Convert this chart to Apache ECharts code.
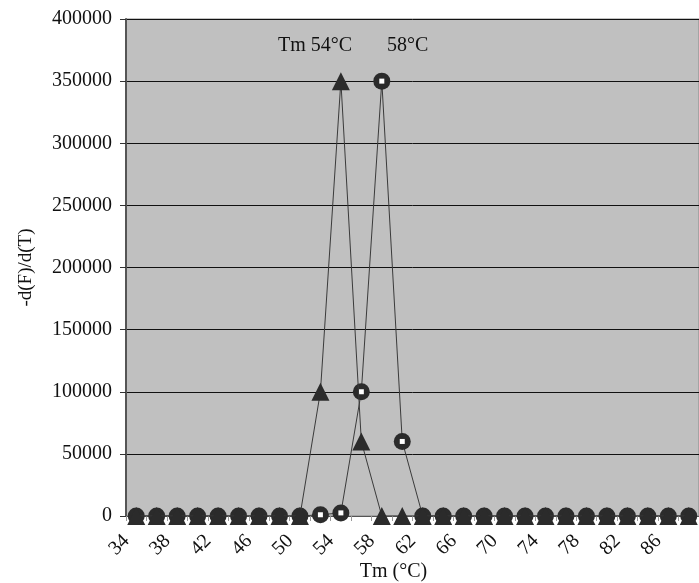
<!DOCTYPE html>
<html><head><meta charset="utf-8">
<script src="https://cdn.jsdelivr.net/npm/echarts@6/dist/echarts.min.js"></script>
<style>html,body{margin:0;padding:0;background:#fff}#c{width:699px;height:583px}</style>
</head><body><div id="c"></div>
<script>
// Temperature categories (°C)
const categories = ['34','36','38','40','42','44','46','48','50','52','54','56','58','60','62','64','66','68','70','72','74','76','78','80','82','84','86','88'];
// -d(F)/d(T), Tm 54°C product (triangles)
const tm54 = [0,0,0,0,0,0,0,0,0,100000,350000,60000,0,0,0,0,0,0,0,0,0,0,0,0,0,0,0,0];
// -d(F)/d(T), Tm 58°C product (circles)
const tm58 = [0,0,0,0,0,0,0,0,0,1000,2500,100000,350000,60000,0,0,0,0,0,0,0,0,0,0,0,0,0,0];
const yMin = 0, yMax = 400000, yStep = 50000;
const peakLabels = ['Tm 54°C', '58°C'];

const FONT = 'Liberation Serif';
const chart = echarts.init(document.getElementById('c'));
chart.setOption({
  animation: false,
  backgroundColor: '#fff',
  grid: { left: 126, top: 19, right: 0, bottom: 67, containLabel: false, outerBoundsMode: 'none',
    show: true, backgroundColor: '#c0c0c0', borderColor: '#888', borderWidth: 1 },
  xAxis: {
    type: 'category', data: categories, boundaryGap: true,
    name: 'Tm (°C)', nameLocation: 'middle', nameGap: 46, nameMoveOverlap: false,
    nameTextStyle: { fontFamily: FONT, fontSize: 20, color: '#111', padding: [0, 38, 0, 0] },
    axisLine: { lineStyle: { color: '#555', width: 1 } },
    axisTick: { show: true, interval: 0, length: 5, lineStyle: { color: '#999' } },
    axisLabel: { interval: 1, rotate: 45, margin: 12, padding: [0, 14, 0, 0], fontFamily: FONT, fontSize: 20, color: '#111' },
    splitLine: { show: false }
  },
  yAxis: {
    type: 'value', min: yMin, max: yMax, interval: yStep,
    name: '-d(F)/d(T)', nameLocation: 'middle', nameGap: 90, nameMoveOverlap: false,
    nameTextStyle: { fontFamily: FONT, fontSize: 19, color: '#111' },
    axisLine: { show: true, lineStyle: { color: '#555', width: 2 } },
    axisTick: { show: true, length: 6, lineStyle: { color: '#333' } },
    axisLabel: { margin: 14, fontFamily: FONT, fontSize: 20, color: '#111', formatter: v => String(v) },
    splitLine: { show: true, lineStyle: { color: '#111', width: 1 } }
  },
  graphic: [
    { type: 'text', left: 278, top: 36, style: { text: peakLabels[0], font: '20px "Liberation Serif"', fill: '#111' } },
    { type: 'text', left: 387, top: 36, style: { text: peakLabels[1], font: '20px "Liberation Serif"', fill: '#111' } }
  ],
  series: [
    { name: '58', type: 'line', data: tm58, z: 2, symbol: 'circle', symbolSize: 17, showAllSymbol: true,
      itemStyle: { color: '#2b2b2b' }, lineStyle: { color: '#3a3a3a', width: 1 } },
    { name: '58c', type: 'line', data: tm58, z: 3, symbol: 'rect', symbolSize: 5, showAllSymbol: true,
      itemStyle: { color: '#ffffff' }, lineStyle: { width: 0, opacity: 0 } },
    { name: '54', type: 'line', data: tm54, z: 4, symbol: 'triangle', symbolSize: [18, 18], showAllSymbol: true,
      itemStyle: { color: '#2b2b2b' }, lineStyle: { color: '#3a3a3a', width: 1 } }
  ]
});
</script></body></html>
